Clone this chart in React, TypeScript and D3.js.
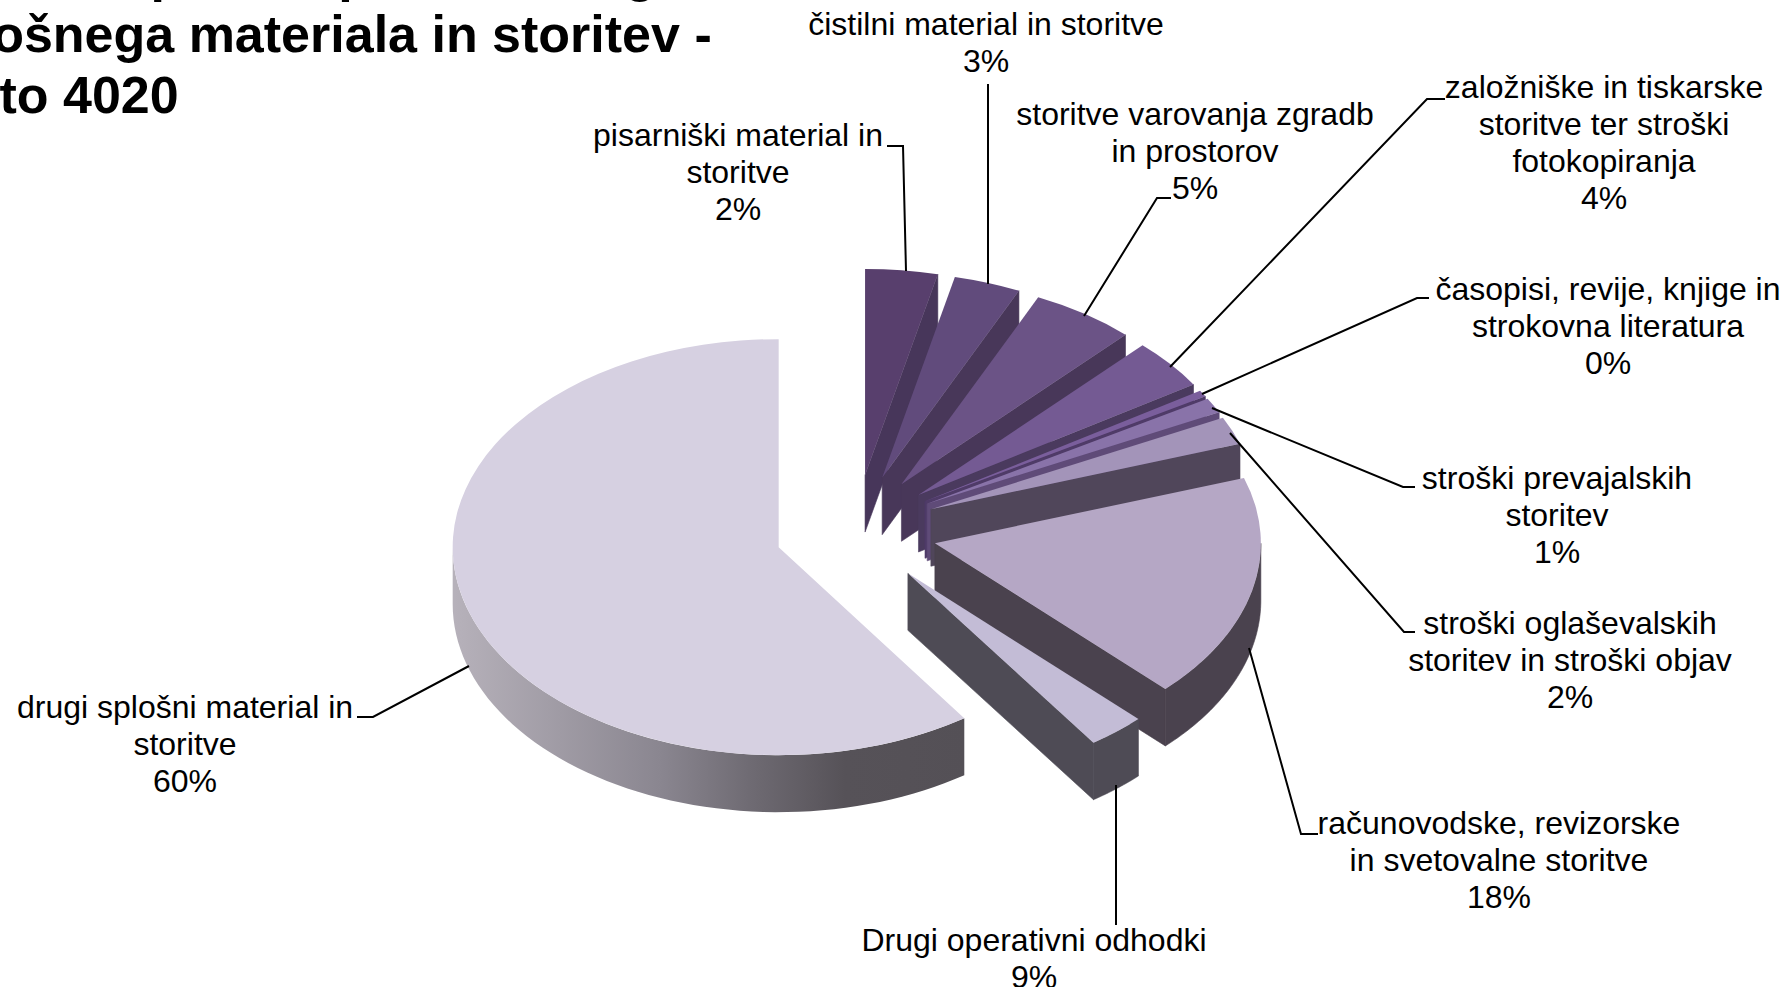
import React from "react";
import * as d3 from "d3";

// Data
const categories = [
  "pisarniški material in storitve",
  "čistilni material in storitve",
  "storitve varovanja zgradb in prostorov",
  "založniške in tiskarske storitve ter stroški fotokopiranja",
  "časopisi, revije, knjige in strokovna literatura",
  "stroški prevajalskih storitev",
  "stroški oglaševalskih storitev in stroški objav",
  "računovodske, revizorske in svetovalne storitve",
  "Drugi operativni odhodki",
  "drugi splošni material in storitve",
];
// shares as drawn (angle of each slice, in percent of the circle)
const drawnShares = [3.58, 3.31, 5.17, 3.92, 0.5, 1.19, 2.19, 17.64, 2.86, 59.64];
// percentages as printed in the labels
const printedPercents = ["2%", "3%", "5%", "4%", "0%", "1%", "2%", "18%", "9%", "60%"];
const labelLines = [
  ["pisarniški material in", "storitve"],
  ["čistilni material in storitve"],
  ["storitve varovanja zgradb", "in prostorov"],
  ["založniške in tiskarske", "storitve ter stroški", "fotokopiranja"],
  ["časopisi, revije, knjige in", "strokovna literatura"],
  ["stroški prevajalskih", "storitev"],
  ["stroški oglaševalskih", "storitev in stroški objav"],
  ["računovodske, revizorske", "in svetovalne storitve"],
  ["Drugi operativni odhodki"],
  ["drugi splošni material in", "storitve"],
];
const titleLines = ["Analiza porabe po vrsti drugih", "splošnega materiala in storitev -", "konto 4020"];

// Styles
const topColors = ["#583F6D", "#614B7C", "#6B5386", "#745A93", "#7A5E9C", "#8973A9", "#A394B9", "#B5A7C5", "#C3BCD6", "#D6D0E1"];
const sideColors = ["#47365A", "#483759", "#483759", "#4A3A5E", "#4F3B68", "#5F4B78", "#50465A", "#4A424E", "#4E4B55", "url(#mainSide)"];

// Layout
const W = 1782, H = 987;
const CX = 856, CY = 530.5, EX = 81, EY = 55.8;
const RX = 326, RY_FRONT = 208, RY_BACK = 206, DEPTH = 57;
const FONT = "'Liberation Sans', Arial, sans-serif";
const labelPos = [
  { x: 738, y: 146 }, { x: 986, y: 35 }, { x: 1195, y: 125 }, { x: 1604, y: 98 }, { x: 1608, y: 300 },
  { x: 1557, y: 489 }, { x: 1570, y: 634 }, { x: 1499, y: 834 }, { x: 1034, y: 951 }, { x: 185, y: 718 },
];
const leaders: [number, number][][] = [
  [[887, 146], [903, 146], [906, 271]],
  [[988, 84], [988, 284]],
  [[1171, 198], [1157, 198], [1084, 316]],
  [[1445, 99], [1427, 99], [1170, 367]],
  [[1429, 298], [1417, 298], [1202, 394]],
  [[1415, 487], [1403, 487], [1212, 408]],
  [[1415, 632], [1404, 632], [1230, 433]],
  [[1318, 834], [1301, 834], [1249, 648]],
  [[1116, 925], [1116, 785]],
  [[357, 717], [373, 717], [469, 666]],
];
const titlePos = [{ x: -46, y: -9 }, { x: -83, y: 52 }, { x: -93, y: 113 }];

const pie = d3.pie<number>().sort(null).value((d) => d);
const arcs = pie(drawnShares);
const arcGen = d3.arc<d3.PieArcDatum<number>>().innerRadius(0).outerRadius(RX);
const lineGen = d3.line<[number, number]>();

export default function App() {
  const slices = arcs.map((a, i) => {
    const mid = (a.startAngle + a.endAngle) / 2;
    const ax = CX + EX * Math.sin(mid);
    const ay = CY - EY * Math.cos(mid);
    const isMain = i === arcs.length - 1;
    const ry = isMain ? RY_FRONT : RY_BACK;
    const rim = (t: number): [number, number] => [ax + RX * Math.sin(t), ay - ry * Math.cos(t)];
    const [ex, ey] = rim(a.endAngle);
    // radial face at the clockwise end of the slice
    const face: [number, number][] = [[ax, ay], [ex, ey], [ex, ey + DEPTH], [ax, ay + DEPTH]];
    // outer rim wall, only the part that faces the viewer
    const from = Math.max(a.startAngle, Math.PI / 2);
    const to = Math.min(a.endAngle, (3 * Math.PI) / 2);
    let wall: [number, number][] | null = null;
    if (to > from) {
      const steps = d3.range(0, 61).map((k) => from + ((to - from) * k) / 60);
      const upper = steps.map(rim);
      const lower = upper.map(([x, y]) => [x, y + DEPTH] as [number, number]).reverse();
      wall = [...upper, ...lower];
    }
    return { a, i, ax, ay, ry, face, wall, isMain };
  });

  return (
    <svg width={W} height={H} viewBox={`0 0 ${W} ${H}`} style={{ position: "fixed", left: 0, top: 0, background: "#fff" }}>
      <defs>
        <linearGradient id="mainSide" gradientUnits="userSpaceOnUse" x1={455} x2={968} y1={0} y2={0}>
          <stop offset="0" stopColor="#B6B1BA" />
          <stop offset="0.4" stopColor="#8A8690" />
          <stop offset="0.58" stopColor="#6E6A72" />
          <stop offset="0.76" stopColor="#565258" />
          <stop offset="1" stopColor="#545056" />
        </linearGradient>
      </defs>
      <g fontFamily={FONT} fontWeight="bold" fontSize={52} fill="#000">
        {titleLines.map((t, i) => (
          <text key={i} x={titlePos[i].x} y={titlePos[i].y}>{t}</text>
        ))}
      </g>
      {slices.map((s) => {
        const sideStroke = s.isMain ? "none" : sideColors[s.i];
        return (
          <g key={s.i} data-name={categories[s.i]}>
            {!s.isMain && <path d={(lineGen(s.face) as string) + "Z"} fill={sideColors[s.i]} stroke={sideStroke} strokeWidth={0.6} />}
            {s.wall && <path d={(lineGen(s.wall) as string) + "Z"} fill={sideColors[s.i]} stroke={sideStroke} strokeWidth={0.6} />}
            <path
              transform={`translate(${s.ax},${s.ay}) scale(1,${s.ry / RX})`}
              d={arcGen(s.a) as string}
              fill={topColors[s.i]}
            />
          </g>
        );
      })}
      <g fill="none" stroke="#000" strokeWidth={2}>
        {leaders.map((l, i) => (
          <path key={i} d={lineGen(l) as string} />
        ))}
      </g>
      <g fontFamily={FONT} fontSize={32} fill="#000" textAnchor="middle">
        {labelLines.map((lines, i) => (
          <text key={i} x={labelPos[i].x} y={labelPos[i].y} dy="0.36em">
            {[...lines, printedPercents[i]].map((t, j) => (
              <tspan key={j} x={labelPos[i].x} dy={j === 0 ? 0 : 37}>{t}</tspan>
            ))}
          </text>
        ))}
      </g>
    </svg>
  );
}
